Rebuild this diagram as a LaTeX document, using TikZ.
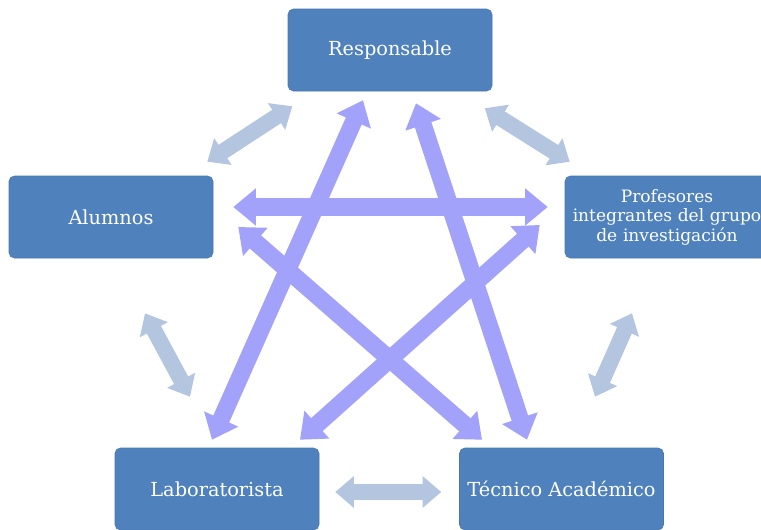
\documentclass[tikz,border=0pt]{standalone}
\usepackage{fontspec}
\setmainfont{DejaVu Serif}
\usepackage{tikz}
\usetikzlibrary{arrows.meta}
\definecolor{boxblue}{RGB}{79,129,189}
\definecolor{boxedge}{RGB}{72,118,175}
\definecolor{ringc}{RGB}{180,197,224}
\definecolor{starc}{RGB}{162,162,250}
\tikzset{
	box/.style={rectangle, rounded corners=4pt, fill=boxblue, draw=boxedge,
		minimum width=153pt, minimum height=61.5pt, text=white, align=center,
		font=\fontsize{14.5}{15}\selectfont},
	ring/.style={draw=ringc, line width=12pt,
		{Triangle[width=23pt,length=14pt]}-{Triangle[width=23pt,length=14pt]}},
	star/.style={draw=starc, line width=13pt,
		{Triangle[width=27pt,length=17pt]}-{Triangle[width=27pt,length=17pt]}},
}

\begin{document}
\begin{tikzpicture}[x=0.75pt, y=-0.75pt]
	\useasboundingbox (0, 0) rectangle (761, 529);

	\node[box] (resp) at (390, 50) {Responsable};
	\node[box] (alum) at (111, 217) {Alumnos};
	\node[box, text width=149pt, inner xsep=1.5pt, font=\fontsize{12.8}{14.6}\selectfont] (prof) at (667, 217)
		{Profesores\\integrantes del grupo\\de investigación};
	\node[box] (lab) at (217, 489) {Laboratorista};
	\node[box] (tec) at (561.5, 489) {Técnico Académico};

	% ring
	\draw[ring] ([shift={(4.5,15)}]resp.south west) -- ([shift={(-6,-14)}]alum.north east);
	\draw[ring] ([shift={(-7.5,17)}]resp.south east) -- ([shift={(5,-14)}]prof.north west);
	\draw[ring] ([shift={(34,55)}]alum.south) -- ([shift={(-27,-51)}]lab.north);
	\draw[ring] ([shift={(-35,55)}]prof.south) -- ([shift={(33.5,-51)}]tec.north);
	\draw[ring] ([shift={(16,3)}]lab.east) -- ([shift={(-18,3)}]tec.west);

	% star
	\draw[star] ([shift={(-27,9)}]resp.south) -- ([shift={(-5,-8)}]lab.north);
	\draw[star] ([shift={(26,12)}]resp.south) -- ([shift={(-34.5,-8)}]tec.north);
	\draw[star] ([shift={(20,-10)}]alum.east) -- ([shift={(-17,-10)}]prof.west);
	\draw[star] ([shift={(25,10)}]alum.east) -- ([shift={(-79.5,-8)}]tec.north);
	\draw[star] ([shift={(-25,8)}]prof.west) -- ([shift={(83,-8)}]lab.north);
\end{tikzpicture}
\end{document}
